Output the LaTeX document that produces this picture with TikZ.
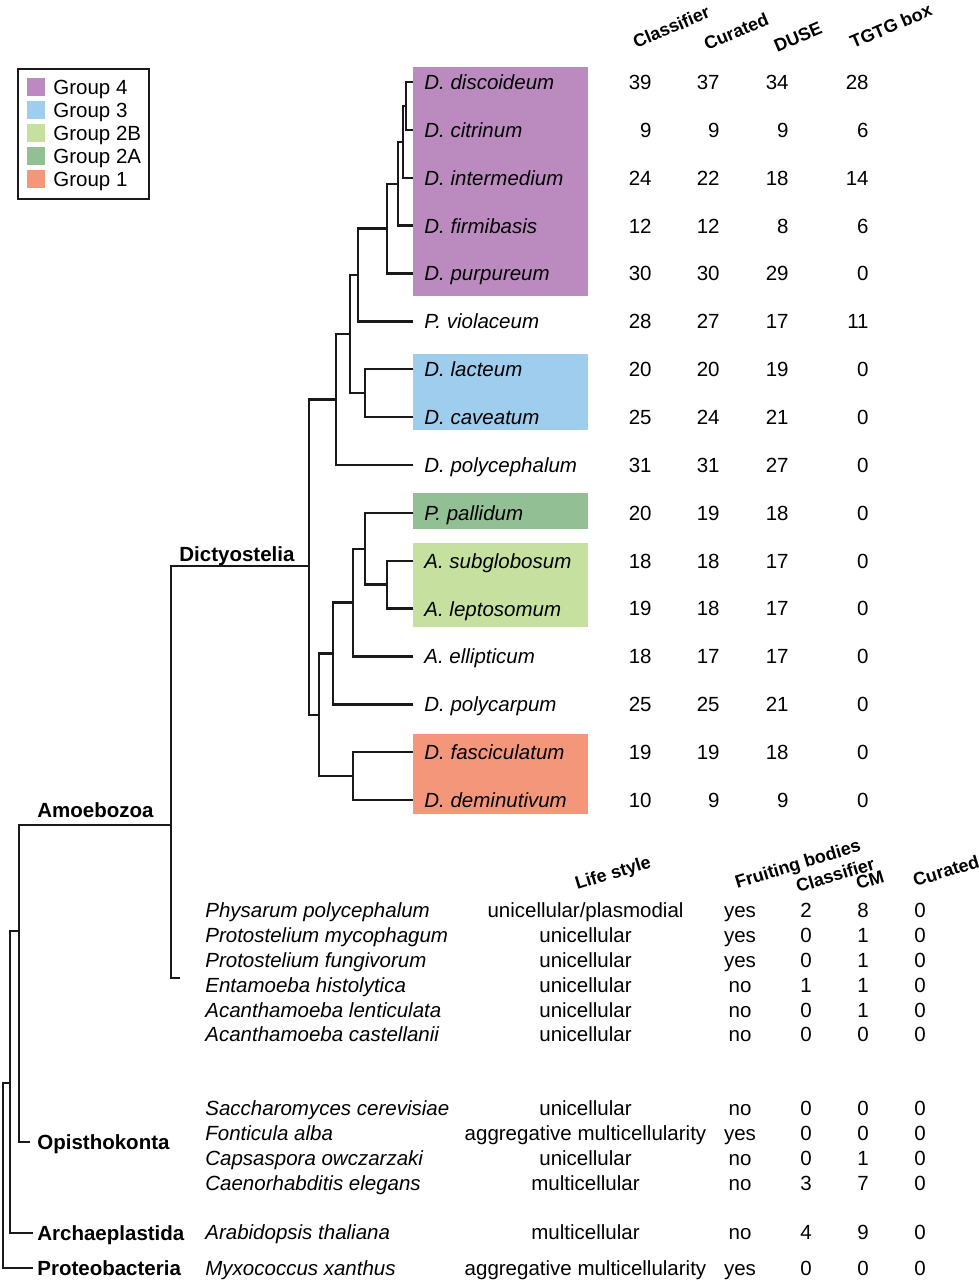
\documentclass[tikz,border=0pt]{standalone}
\usepackage{fontspec}
\setmainfont{Liberation Sans}

\newcommand{\bodyfont}{\fontsize{10.25}{12.5}\selectfont}
\newcommand{\headfont}{\fontsize{9}{11}\selectfont\bfseries}

\definecolor{grpfour}{RGB}{187,139,191}
\definecolor{grpthree}{RGB}{159,205,237}
\definecolor{grptwob}{RGB}{197,224,159}
\definecolor{grptwoa}{RGB}{147,191,148}
\definecolor{grpone}{RGB}{243,150,121}

% one row of the table below the tree
\newcommand{\sprow}[8]{%
  \node[cell, anchor=west, font=\bodyfont\itshape] (#1) at (205,#2) {#3};
  \node[cell] (#1-life) at (585.5,#2) {#4};
  \node[cell] (#1-fb) at (740,#2) {#5};
  \node[cell] (#1-cl) at (806,#2) {#6};
  \node[cell] (#1-cm) at (863,#2) {#7};
  \node[cell] (#1-cu) at (920,#2) {#8};
}

\begin{document}
\begin{tikzpicture}[x=0.5pt, y=-0.5pt,
    branch/.style={black!90, line width=1.2pt},
    leaf/.style={anchor=west, inner xsep=5.5pt, inner ysep=0pt, text height=7.4pt, text depth=0pt, font=\bodyfont\itshape},
    num/.style={anchor=east, inner sep=0pt, text height=7.4pt, text depth=0pt, font=\bodyfont},
    cell/.style={inner sep=0pt, text height=7.4pt, text depth=0pt, font=\bodyfont},
    clade/.style={anchor=west, inner xsep=2pt, inner ysep=0pt, text height=7.4pt, text depth=0pt, font=\bodyfont\bfseries},
    colhead/.style={anchor=base west, inner sep=0pt, font=\headfont}]
    \useasboundingbox (0,0) rectangle (979,1280);

    % group boxes
    \fill[grpfour] (413,67) rectangle (588,296);
    \fill[grpthree] (413,354) rectangle (588,430);
    \fill[grptwoa] (413,493) rectangle (588,529);
    \fill[grptwob] (413,543) rectangle (588,627);
    \fill[grpone] (413,734) rectangle (588,814);

    % legend
    \draw[black!90, line width=1pt] (18,69) rectangle (149,199);
    \foreach \c/\t/\k in {grpfour/Group 4/0, grpthree/Group 3/1, grptwob/Group 2B/2, grptwoa/Group 2A/3, grpone/Group 1/4}{
        \fill[\c] (27,{78+23*\k}) rectangle (45,{96+23*\k});
        \node[cell, anchor=west] (lg\k) at (53,{87+23*\k}) {\t};
    }

    % Dictyostelia
    \node[leaf] (disc) at (413,82.0) {D. discoideum};
    \node[leaf] (citr) at (413,129.9) {D. citrinum};
    \node[leaf] (inte) at (413,177.7) {D. intermedium};
    \node[leaf] (firm) at (413,225.6) {D. firmibasis};
    \node[leaf] (purp) at (413,273.5) {D. purpureum};
    \node[leaf] (viol) at (413,321.4) {P. violaceum};
    \node[leaf] (lact) at (413,369.2) {D. lacteum};
    \node[leaf] (cave) at (413,417.1) {D. caveatum};
    \node[leaf] (pceph) at (413,465.0) {D. polycephalum};
    \node[leaf] (pall) at (413,512.8) {P. pallidum};
    \node[leaf] (subg) at (413,560.7) {A. subglobosum};
    \node[leaf] (lept) at (413,608.6) {A. leptosomum};
    \node[leaf] (elli) at (413,656.4) {A. ellipticum};
    \node[leaf] (pcarp) at (413,704.3) {D. polycarpum};
    \node[leaf] (fasc) at (413,752.2) {D. fasciculatum};
    \node[leaf] (demi) at (413,800.0) {D. deminutivum};

    \coordinate (nA) at (406,106.0);
    \coordinate (nB) at (403,141.9);
    \coordinate (nC) at (398,183.7);
    \coordinate (nD) at (387,228.6);
    \coordinate (nE) at (358,275.0);
    \coordinate (nG) at (365,393.1);
    \coordinate (nF) at (350,334.0);
    \coordinate (nH) at (336,399.5);
    \coordinate (nI) at (387,584.6);
    \coordinate (nJ) at (365,548.7);
    \coordinate (nK) at (353,602.6);
    \coordinate (nL) at (333,653.4);
    \coordinate (nM) at (353,776.1);
    \coordinate (nN) at (319,714.8);
    \coordinate (nDict) at (309,566);

    \draw[branch] (disc.west) -| (nA) |- (citr.west);
    \draw[branch] (nA) -| (nB) |- (inte.west);
    \draw[branch] (nB) -| (nC) |- (firm.west);
    \draw[branch] (nC) -| (nD) |- (purp.west);
    \draw[branch] (nD) -| (nE) |- (viol.west);
    \draw[branch] (lact.west) -| (nG) |- (cave.west);
    \draw[branch] (nE) -| (nF) |- (nG);
    \draw[branch] (nF) -| (nH) |- (pceph.west);
    \draw[branch] (subg.west) -| (nI) |- (lept.west);
    \draw[branch] (pall.west) -| (nJ) |- (nI);
    \draw[branch] (nJ) -| (nK) |- (elli.west);
    \draw[branch] (nK) -| (nL) |- (pcarp.west);
    \draw[branch] (fasc.west) -| (nM) |- (demi.west);
    \draw[branch] (nL) -| (nN) |- (nM);
    \draw[branch] (nH) -| (nDict) |- (nN);

    % counts per species
    \foreach \i/\a/\b/\c/\d in {1/39/37/34/28, 2/9/9/9/6, 3/24/22/18/14, 4/12/12/8/6,
        5/30/30/29/0, 6/28/27/17/11, 7/20/20/19/0, 8/25/24/21/0, 9/31/31/27/0,
        10/20/19/18/0, 11/18/18/17/0, 12/19/18/17/0, 13/18/17/17/0, 14/25/25/21/0,
        15/19/19/18/0, 16/10/9/9/0}{
        \node[num] (cl\i) at (652,{82+47.87*(\i-1)}) {\a};
        \node[num] (cu\i) at (720,{82+47.87*(\i-1)}) {\b};
        \node[num] (du\i) at (789,{82+47.87*(\i-1)}) {\c};
        \node[num] (tg\i) at (869,{82+47.87*(\i-1)}) {\d};
    }

    \node[colhead, rotate=23] (hcl) at (636,49) {Classifier};
    \node[colhead, rotate=23] (hcu) at (707,51) {Curated};
    \node[colhead, rotate=23] (hdu) at (777,53) {DUSE};
    \node[colhead, rotate=23] (htg) at (853,49) {TGTG box};

    % outgroups
    \node[clade, inner sep=0pt] (dictyostelia) at (179,554) {Dictyostelia};
    \node[clade, inner sep=0pt] (amoebozoa) at (37,810) {Amoebozoa};
    \node[clade, inner xsep=3.5pt] (opis) at (30,1142) {Opisthokonta};
    \node[clade] (arch) at (33,1233) {Archaeplastida};
    \node[clade] (prot) at (33,1268) {Proteobacteria};

    \coordinate (amoRest) at (180,978);
    \coordinate (nAmoe) at (171,825);
    \coordinate (nOpAm) at (19,931);
    \coordinate (nEuk) at (10,1083);
    \coordinate (nRoot) at (3,1175);

    \draw[branch] (nDict) -| (nAmoe) |- (amoRest);
    \draw[branch] (nAmoe) -| (nOpAm) |- (opis.west);
    \draw[branch] (nOpAm) -| (nEuk) |- (arch.west);
    \draw[branch] (nEuk) -| (nRoot) |- (prot.west);

    \node[colhead, rotate=17] (hlife) at (577,890) {Life style};
    \node[colhead, rotate=17] (hfb) at (737,889) {Fruiting bodies};
    \node[colhead, rotate=17] (hcl2) at (798,893) {Classifier};
    \node[colhead, rotate=17] (hcm) at (858,890) {CM};
    \node[colhead, rotate=17] (hcu2) at (915,887) {Curated};

    \sprow{phys}{910}{Physarum polycephalum}{unicellular/plasmodial}{yes}{2}{8}{0}
    \sprow{pmyc}{935}{Protostelium mycophagum}{unicellular}{yes}{0}{1}{0}
    \sprow{pfun}{960}{Protostelium fungivorum}{unicellular}{yes}{0}{1}{0}
    \sprow{enta}{985}{Entamoeba histolytica}{unicellular}{no}{1}{1}{0}
    \sprow{alen}{1010}{Acanthamoeba lenticulata}{unicellular}{no}{0}{1}{0}
    \sprow{acas}{1034}{Acanthamoeba castellanii}{unicellular}{no}{0}{0}{0}
    \sprow{scer}{1108}{Saccharomyces cerevisiae}{unicellular}{no}{0}{0}{0}
    \sprow{falb}{1133}{Fonticula alba}{aggregative multicellularity}{yes}{0}{0}{0}
    \sprow{cows}{1158}{Capsaspora owczarzaki}{unicellular}{no}{0}{1}{0}
    \sprow{cele}{1183}{Caenorhabditis elegans}{multicellular}{no}{3}{7}{0}
    \sprow{atha}{1232}{Arabidopsis thaliana}{multicellular}{no}{4}{9}{0}
    \sprow{mxan}{1268}{Myxococcus xanthus}{aggregative multicellularity}{yes}{0}{0}{0}
\end{tikzpicture}
\end{document}
